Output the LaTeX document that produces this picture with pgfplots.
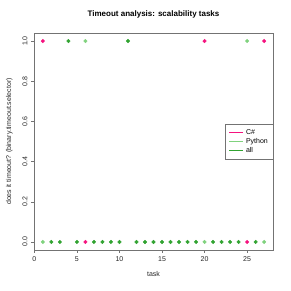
\documentclass[border=0pt]{standalone}
\usepackage{pgfplots}
\pgfplotsset{compat=1.18}
\usepackage{fontspec}
\setmainfont{Liberation Sans}
\definecolor{cpink}{HTML}{F5137F}
\definecolor{clight}{HTML}{80D27E}
\definecolor{cdark}{HTML}{31A331}
\begin{document}
\begin{tikzpicture}
\useasboundingbox (-34pt,-41pt) rectangle (257pt,250pt);
\begin{axis}[
  at={(0,0)}, anchor=south west,
  scale only axis, width=239pt, height=217pt,
  xmin=-0.04, xmax=28.04, ymin=-0.04, ymax=1.04,
  xtick={0,5,10,15,20,25},
  ytick={0,0.2,0.4,0.6,0.8,1.0},
  yticklabel style={rotate=90, /pgf/number format/fixed, /pgf/number format/fixed zerofill, /pgf/number format/precision=1},
  /pgf/number format/assume math mode=true,
  tick align=outside, tick pos=left,
  major tick length=3pt,
  axis line style={draw=black!55},
  tick style={draw=black!55},
  ticklabel style={font=\fontsize{7}{8}\selectfont, text=black!85},
  xlabel={task}, ylabel={does it timeout? (binary.timeout.selector)},
  label style={font=\fontsize{7}{8}\selectfont, text=black!85},
  xlabel style={yshift=-3pt},
  ylabel style={yshift=3pt},
  title={\textbf{Timeout analysis: scalability tasks}},
  title style={font=\fontsize{8}{9}\selectfont, yshift=5pt},
  legend style={at={(1,0.58)}, anchor=north east, font=\fontsize{7}{8}\selectfont, draw=black!55, inner sep=3pt, row sep=-1.5pt, cells={anchor=west}},
  legend image code/.code={\draw[#1, mark=none, line width=1.1pt] (0cm,0cm) -- (0.5cm,0cm);},
  every axis plot/.append style={only marks, mark=*, mark size=1.8pt},
]
\addplot[forget plot, cpink, mark options={draw=cpink, fill=cpink}] coordinates {(1,1) (20,1) (27,1) (6,0) (25,0)};
\addplot[forget plot, clight, mark options={draw=clight, fill=clight}] coordinates {(6,1) (25,1) (1,0) (20,0) (27,0)};
\addplot[forget plot, cdark, mark options={draw=cdark, fill=cdark}] coordinates {(4,1) (11,1) (2,0) (3,0) (5,0) (7,0) (8,0) (9,0) (10,0) (12,0) (13,0) (14,0) (15,0) (16,0) (17,0) (18,0) (19,0) (21,0) (22,0) (23,0) (24,0) (26,0)};
\addlegendimage{draw=cpink, line width=1.1pt}
\addlegendentry{C\#}
\addlegendimage{draw=clight, line width=1.1pt}
\addlegendentry{Python}
\addlegendimage{draw=cdark, line width=1.1pt}
\addlegendentry{all}
\end{axis}
\end{tikzpicture}
\end{document}
